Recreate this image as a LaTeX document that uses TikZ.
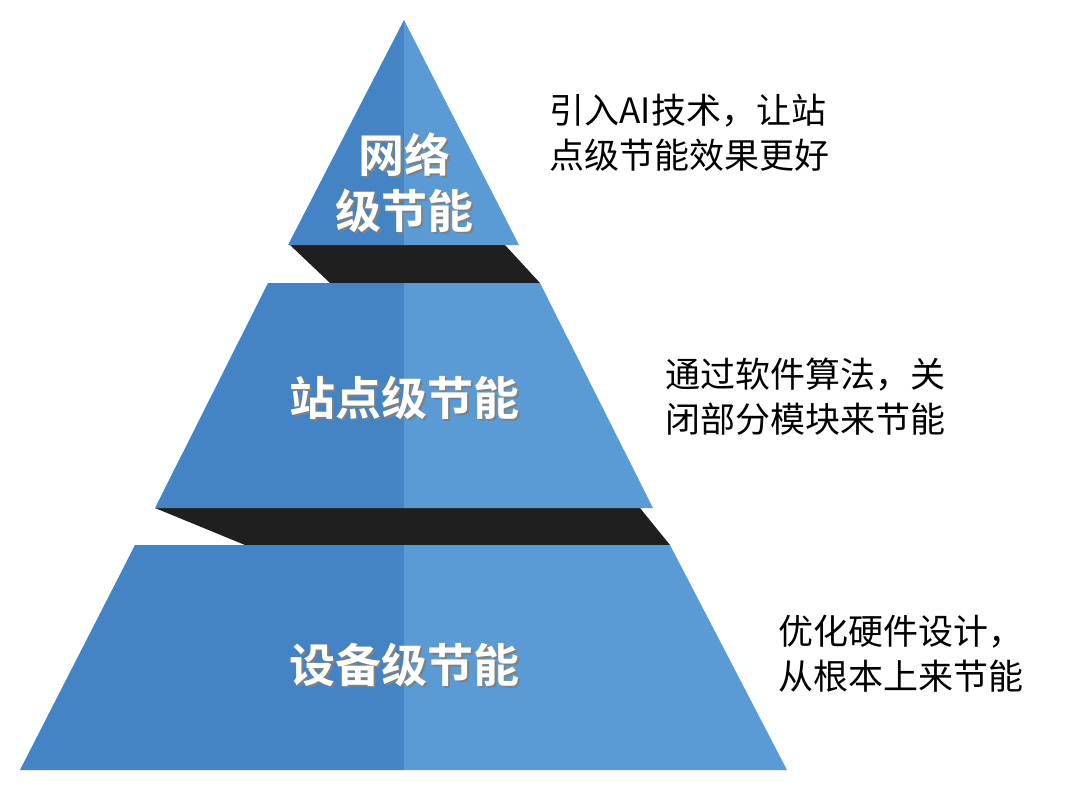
\documentclass[tikz,border=0pt]{standalone}
\usepackage{fontspec}
\newfontfamily\cjk{Noto Sans CJK SC}
\newfontfamily\cjkb{Noto Sans CJK SC Bold}
\definecolor{bl}{HTML}{4484C4}
\definecolor{br}{HTML}{5B9BD5}
\begin{document}
\begin{tikzpicture}[x=1pt,y=-1pt,
  lab/.style={text=white,font=\cjkb\fontsize{46}{56}\selectfont,align=center},
  shd/.style={text=black!50,font=\cjkb\fontsize{46}{56}\selectfont,align=center},
  note/.style={anchor=west,font=\cjk\fontsize{35}{45}\selectfont,align=left}]
\useasboundingbox (0,0) rectangle (1080,793);
\fill[white] (0,0) rectangle (1080,793);
% black bands
\fill[black!88] (290,245) -- (505,245) -- (540,283) -- (330,283) -- cycle;
\fill[black!88] (155,508) -- (640,508) -- (670,545) -- (245,545) -- cycle;
% top
\fill[bl] (404,20) -- (288,245) -- (404,245) -- cycle;
\fill[br] (404,20) -- (519,245) -- (404,245) -- cycle;
% middle
\fill[bl] (268,283) -- (404,283) -- (404,508) -- (155,508) -- cycle;
\fill[br] (404,283) -- (540,283) -- (653,508) -- (404,508) -- cycle;
% bottom
\fill[bl] (135,545) -- (404,545) -- (404,770) -- (20,770) -- cycle;
\fill[br] (404,545) -- (670,545) -- (787,770) -- (404,770) -- cycle;
% labels
\node[shd] at (406,185) {网络\\级节能};
\node[lab] (t1) at (404,183) {网络\\级节能};
\node[shd] at (406,400) {站点级节能};
\node[lab] (t2) at (404,398) {站点级节能};
\node[shd] at (406,667) {设备级节能};
\node[lab] (t3) at (404,665) {设备级节能};
% notes
\node[note] (n1) at (546,133) {引入AI技术，让站\\点级节能效果更好};
\node[note] (n2) at (662,397) {通过软件算法，关\\闭部分模块来节能};
\node[note] (n3) at (775,654) {优化硬件设计，\\从根本上来节能};
\end{tikzpicture}
\end{document}
